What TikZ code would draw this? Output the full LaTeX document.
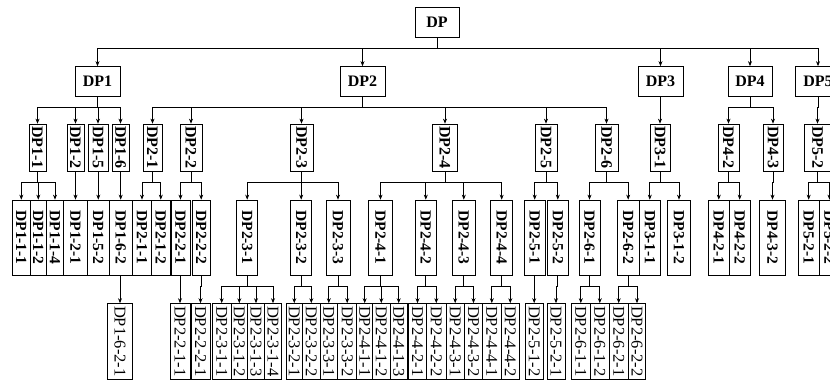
\documentclass[tikz,border=0pt]{standalone}
\usepackage{fontspec}
\setmainfont{Liberation Serif}
\usetikzlibrary{arrows.meta}
\tikzset{
  box/.style={draw, inner sep=0pt, minimum width=45pt, minimum height=30pt,
    font=\fontsize{16}{16}\selectfont\bfseries},
  vbox/.style={draw, rotate=-90, inner sep=0pt},
  rowb/.style={vbox, minimum width=47pt, font=\fontsize{16}{16}\selectfont\bfseries},
  rowc/.style={vbox, minimum width=75pt, font=\fontsize{15.5}{15.5}\selectfont\bfseries},
  rowd/.style={vbox, minimum width=75.5pt, font=\fontsize{16.5}{16.5}\selectfont},
  bw/.style={minimum height=#1pt}
}
\begin{document}
\begin{tikzpicture}[x=1pt,y=-1pt,line width=0.7pt,>={Stealth[length=5pt,width=4pt]}]
\useasboundingbox (0,0) rectangle (830,380);

\node[box,minimum width=44pt] (DP) at (437,22) {DP};

\node[box] (DP1) at (97.5,81.5) {DP1};
\node[box] (DP2) at (362.5,81.5) {DP2};
\node[box] (DP3) at (660.5,81.5) {DP3};
\node[box,minimum width=44pt] (DP4) at (750,81.5) {DP4};
\node[box,minimum width=46pt] (DP5) at (818,81.5) {DP5};

\node[rowb,bw=17] (DP1-1) at (37.5,147.5) {DP1-1};
\node[rowb,bw=17] (DP1-2) at (75.5,147.5) {DP1-2};
\node[rowb,bw=20] (DP1-5) at (98,147.5) {DP1-5};
\node[rowb,bw=17] (DP1-6) at (120.5,147.5) {DP1-6};
\node[rowb,bw=19] (DP2-1) at (152.5,147.5) {DP2-1};
\node[rowb,bw=22] (DP2-2) at (191,147.5) {DP2-2};
\node[rowb,bw=23] (DP2-3) at (301.5,147.5) {DP2-3};
\node[rowb,bw=25] (DP2-4) at (445,147.5) {DP2-4};
\node[rowb,bw=22] (DP2-5) at (546,147.5) {DP2-5};
\node[rowb,bw=23] (DP2-6) at (606.5,147.5) {DP2-6};
\node[rowb,bw=20] (DP3-1) at (660,147.5) {DP3-1};
\node[rowb,bw=21] (DP4-2) at (728.5,147.5) {DP4-2};
\node[rowb,bw=20] (DP4-3) at (773,147.5) {DP4-3};
\node[rowb,bw=27] (DP5-2) at (817.5,147.5) {DP5-2};

\node[rowc,bw=17.3] (DP1-1-1) at (21.3,237.5) {DP1-1-1};
\node[rowc,bw=16.7] (DP1-1-2) at (38.3,237.5) {DP1-1-2};
\node[rowc,bw=16.7] (DP1-1-4) at (55,237.5) {DP1-1-4};
\node[rowc,bw=24.4] (DP1-2-1) at (75.5,237.5) {DP1-2-1};
\node[rowc,bw=21.3] (DP1-5-2) at (98.3,237.5) {DP1-5-2};
\node[rowc,bw=23.3] (DP1-6-2) at (120.7,237.5) {DP1-6-2};
\node[rowc,bw=19.4] (DP2-1-1) at (142,237.5) {DP2-1-1};
\node[rowc,bw=18.3] (DP2-1-2) at (160.8,237.5) {DP2-1-2};
\node[rowc,bw=19] (DP2-2-1) at (180.5,237.5) {DP2-2-1};
\node[rowc,bw=17.7] (DP2-2-2) at (201.2,237.5) {DP2-2-2};
\node[rowc,bw=21] (DP2-3-1) at (247.2,237.5) {DP2-3-1};
\node[rowc,bw=21] (DP2-3-2) at (301.2,237.5) {DP2-3-2};
\node[rowc,bw=24] (DP2-3-3) at (338,237.5) {DP2-3-3};
\node[rowc,bw=24.4] (DP2-4-1) at (380.5,237.5) {DP2-4-1};
\node[rowc,bw=21.7] (DP2-4-2) at (425.8,237.5) {DP2-4-2};
\node[rowc,bw=22.3] (DP2-4-3) at (463.8,237.5) {DP2-4-3};
\node[rowc,bw=22] (DP2-4-4) at (501.7,237.5) {DP2-4-4};
\node[rowc,bw=20.7] (DP2-5-1) at (534.7,237.5) {DP2-5-1};
\node[rowc,bw=21] (DP2-5-2) at (557.8,237.5) {DP2-5-2};
\node[rowc,bw=21] (DP2-6-1) at (589.5,237.5) {DP2-6-1};
\node[rowc,bw=21.7] (DP2-6-2) at (628.2,237.5) {DP2-6-2};
\node[rowc,bw=21.7] (DP3-1-1) at (649.8,237.5) {DP3-1-1};
\node[rowc,bw=23.4] (DP3-1-2) at (679,237.5) {DP3-1-2};
\node[rowc,bw=21] (DP4-2-1) at (718.8,237.5) {DP4-2-1};
\node[rowc,bw=20.7] (DP4-2-2) at (739.7,237.5) {DP4-2-2};
\node[rowc,bw=26.4] (DP4-3-2) at (772.5,237.5) {DP4-3-2};
\node[rowc,bw=20.7] (DP5-2-1) at (808.7,237.5) {DP5-2-1};
\node[rowc,bw=21] (DP5-2-2) at (829.5,237.5) {DP5-2-2};

\node[rowd,bw=24.6] (DP1-6-2-1) at (120,341.3) {DP1-6-2-1};
\node[rowd,bw=20] (DP2-2-1-1) at (180,341.3) {DP2-2-1-1};
\node[rowd,bw=19] (DP2-2-2-1) at (200.5,341.3) {DP2-2-2-1};
\node[rowd,bw=18.7] (DP2-3-1-1) at (221.7,341.3) {DP2-3-1-1};
\node[rowd,bw=16.7] (DP2-3-1-2) at (239.3,341.3) {DP2-3-1-2};
\node[rowd,bw=16.6] (DP2-3-1-3) at (256,341.3) {DP2-3-1-3};
\node[rowd,bw=17.4] (DP2-3-1-4) at (273,341.3) {DP2-3-1-4};
\node[rowd,bw=16.7] (DP2-3-2-1) at (294.3,341.3) {DP2-3-2-1};
\node[rowd,bw=17.3] (DP2-3-2-2) at (311.3,341.3) {DP2-3-2-2};
\node[rowd,bw=17.7] (DP2-3-3-1) at (328.8,341.3) {DP2-3-3-1};
\node[rowd,bw=19] (DP2-3-3-2) at (347.2,341.3) {DP2-3-3-2};
\node[rowd,bw=16] (DP2-4-1-1) at (364.7,341.3) {DP2-4-1-1};
\node[rowd,bw=17.3] (DP2-4-1-2) at (381.3,341.3) {DP2-4-1-2};
\node[rowd,bw=17.3] (DP2-4-1-3) at (398.7,341.3) {DP2-4-1-3};
\node[rowd,bw=18.4] (DP2-4-2-1) at (417.5,341.3) {DP2-4-2-1};
\node[rowd,bw=19.3] (DP2-4-2-2) at (436.3,341.3) {DP2-4-2-2};
\node[rowd,bw=18.3] (DP2-4-3-1) at (455.2,341.3) {DP2-4-3-1};
\node[rowd,bw=18.4] (DP2-4-3-2) at (473.5,341.3) {DP2-4-3-2};
\node[rowd,bw=18.3] (DP2-4-4-1) at (491.8,341.3) {DP2-4-4-1};
\node[rowd,bw=18.5] (DP2-4-4-2) at (510.3,341.3) {DP2-4-4-2};
\node[rowd,bw=18.5] (DP2-5-1-2) at (534.2,341.3) {DP2-5-1-2};
\node[rowd,bw=18] (DP2-5-2-1) at (556,341.3) {DP2-5-2-1};
\node[rowd,bw=19.5] (DP2-6-1-1) at (580.8,341.3) {DP2-6-1-1};
\node[rowd,bw=18.5] (DP2-6-1-2) at (599.8,341.3) {DP2-6-1-2};
\node[rowd,bw=19.3] (DP2-6-2-1) at (618.7,341.3) {DP2-6-2-1};
\node[rowd,bw=17.4] (DP2-6-2-2) at (637,341.3) {DP2-6-2-2};

\foreach \c in {DP1,DP2,DP3,DP4,DP5}
  \draw[->] (DP.south) -- ++(0,11) -| (\c.north);

\foreach \p/\cs in {DP1/{DP1-1,DP1-2,DP1-5,DP1-6},
    DP2/{DP2-1,DP2-2,DP2-3,DP2-4,DP2-5,DP2-6},
    DP3/{DP3-1}, DP4/{DP4-2,DP4-3}, DP5/{DP5-2}}
  \foreach \c in \cs
    \draw[->] (\p.south) -- ++(0,10.5) -| (\c.west);

\foreach \p/\cs in {DP1-1/{DP1-1-1,DP1-1-2,DP1-1-4}, DP1-2/{DP1-2-1},
    DP1-5/{DP1-5-2}, DP1-6/{DP1-6-2}, DP2-1/{DP2-1-1,DP2-1-2},
    DP2-2/{DP2-2-1,DP2-2-2}, DP2-3/{DP2-3-1,DP2-3-2,DP2-3-3},
    DP2-4/{DP2-4-1,DP2-4-2,DP2-4-3,DP2-4-4}, DP2-5/{DP2-5-1,DP2-5-2},
    DP2-6/{DP2-6-1,DP2-6-2}, DP3-1/{DP3-1-1,DP3-1-2},
    DP4-2/{DP4-2-1,DP4-2-2}, DP4-3/{DP4-3-2}, DP5-2/{DP5-2-1,DP5-2-2}}
  \foreach \c in \cs
    \draw[->] (\p.east) -- ++(0,11) -| (\c.west);

\foreach \p/\cs in {DP1-6-2/{DP1-6-2-1}, DP2-2-1/{DP2-2-1-1},
    DP2-2-2/{DP2-2-2-1}, DP2-3-1/{DP2-3-1-1,DP2-3-1-2,DP2-3-1-3,DP2-3-1-4},
    DP2-3-2/{DP2-3-2-1,DP2-3-2-2}, DP2-3-3/{DP2-3-3-1,DP2-3-3-2},
    DP2-4-1/{DP2-4-1-1,DP2-4-1-2,DP2-4-1-3}, DP2-4-2/{DP2-4-2-1,DP2-4-2-2},
    DP2-4-3/{DP2-4-3-1,DP2-4-3-2}, DP2-4-4/{DP2-4-4-1,DP2-4-4-2},
    DP2-5-1/{DP2-5-1-2}, DP2-5-2/{DP2-5-2-1},
    DP2-6-1/{DP2-6-1-1,DP2-6-1-2}, DP2-6-2/{DP2-6-2-1,DP2-6-2-2}}
  \foreach \c in \cs
    \draw[->] (\p.east) -- ++(0,11) -| (\c.west);
\end{tikzpicture}
\end{document}
